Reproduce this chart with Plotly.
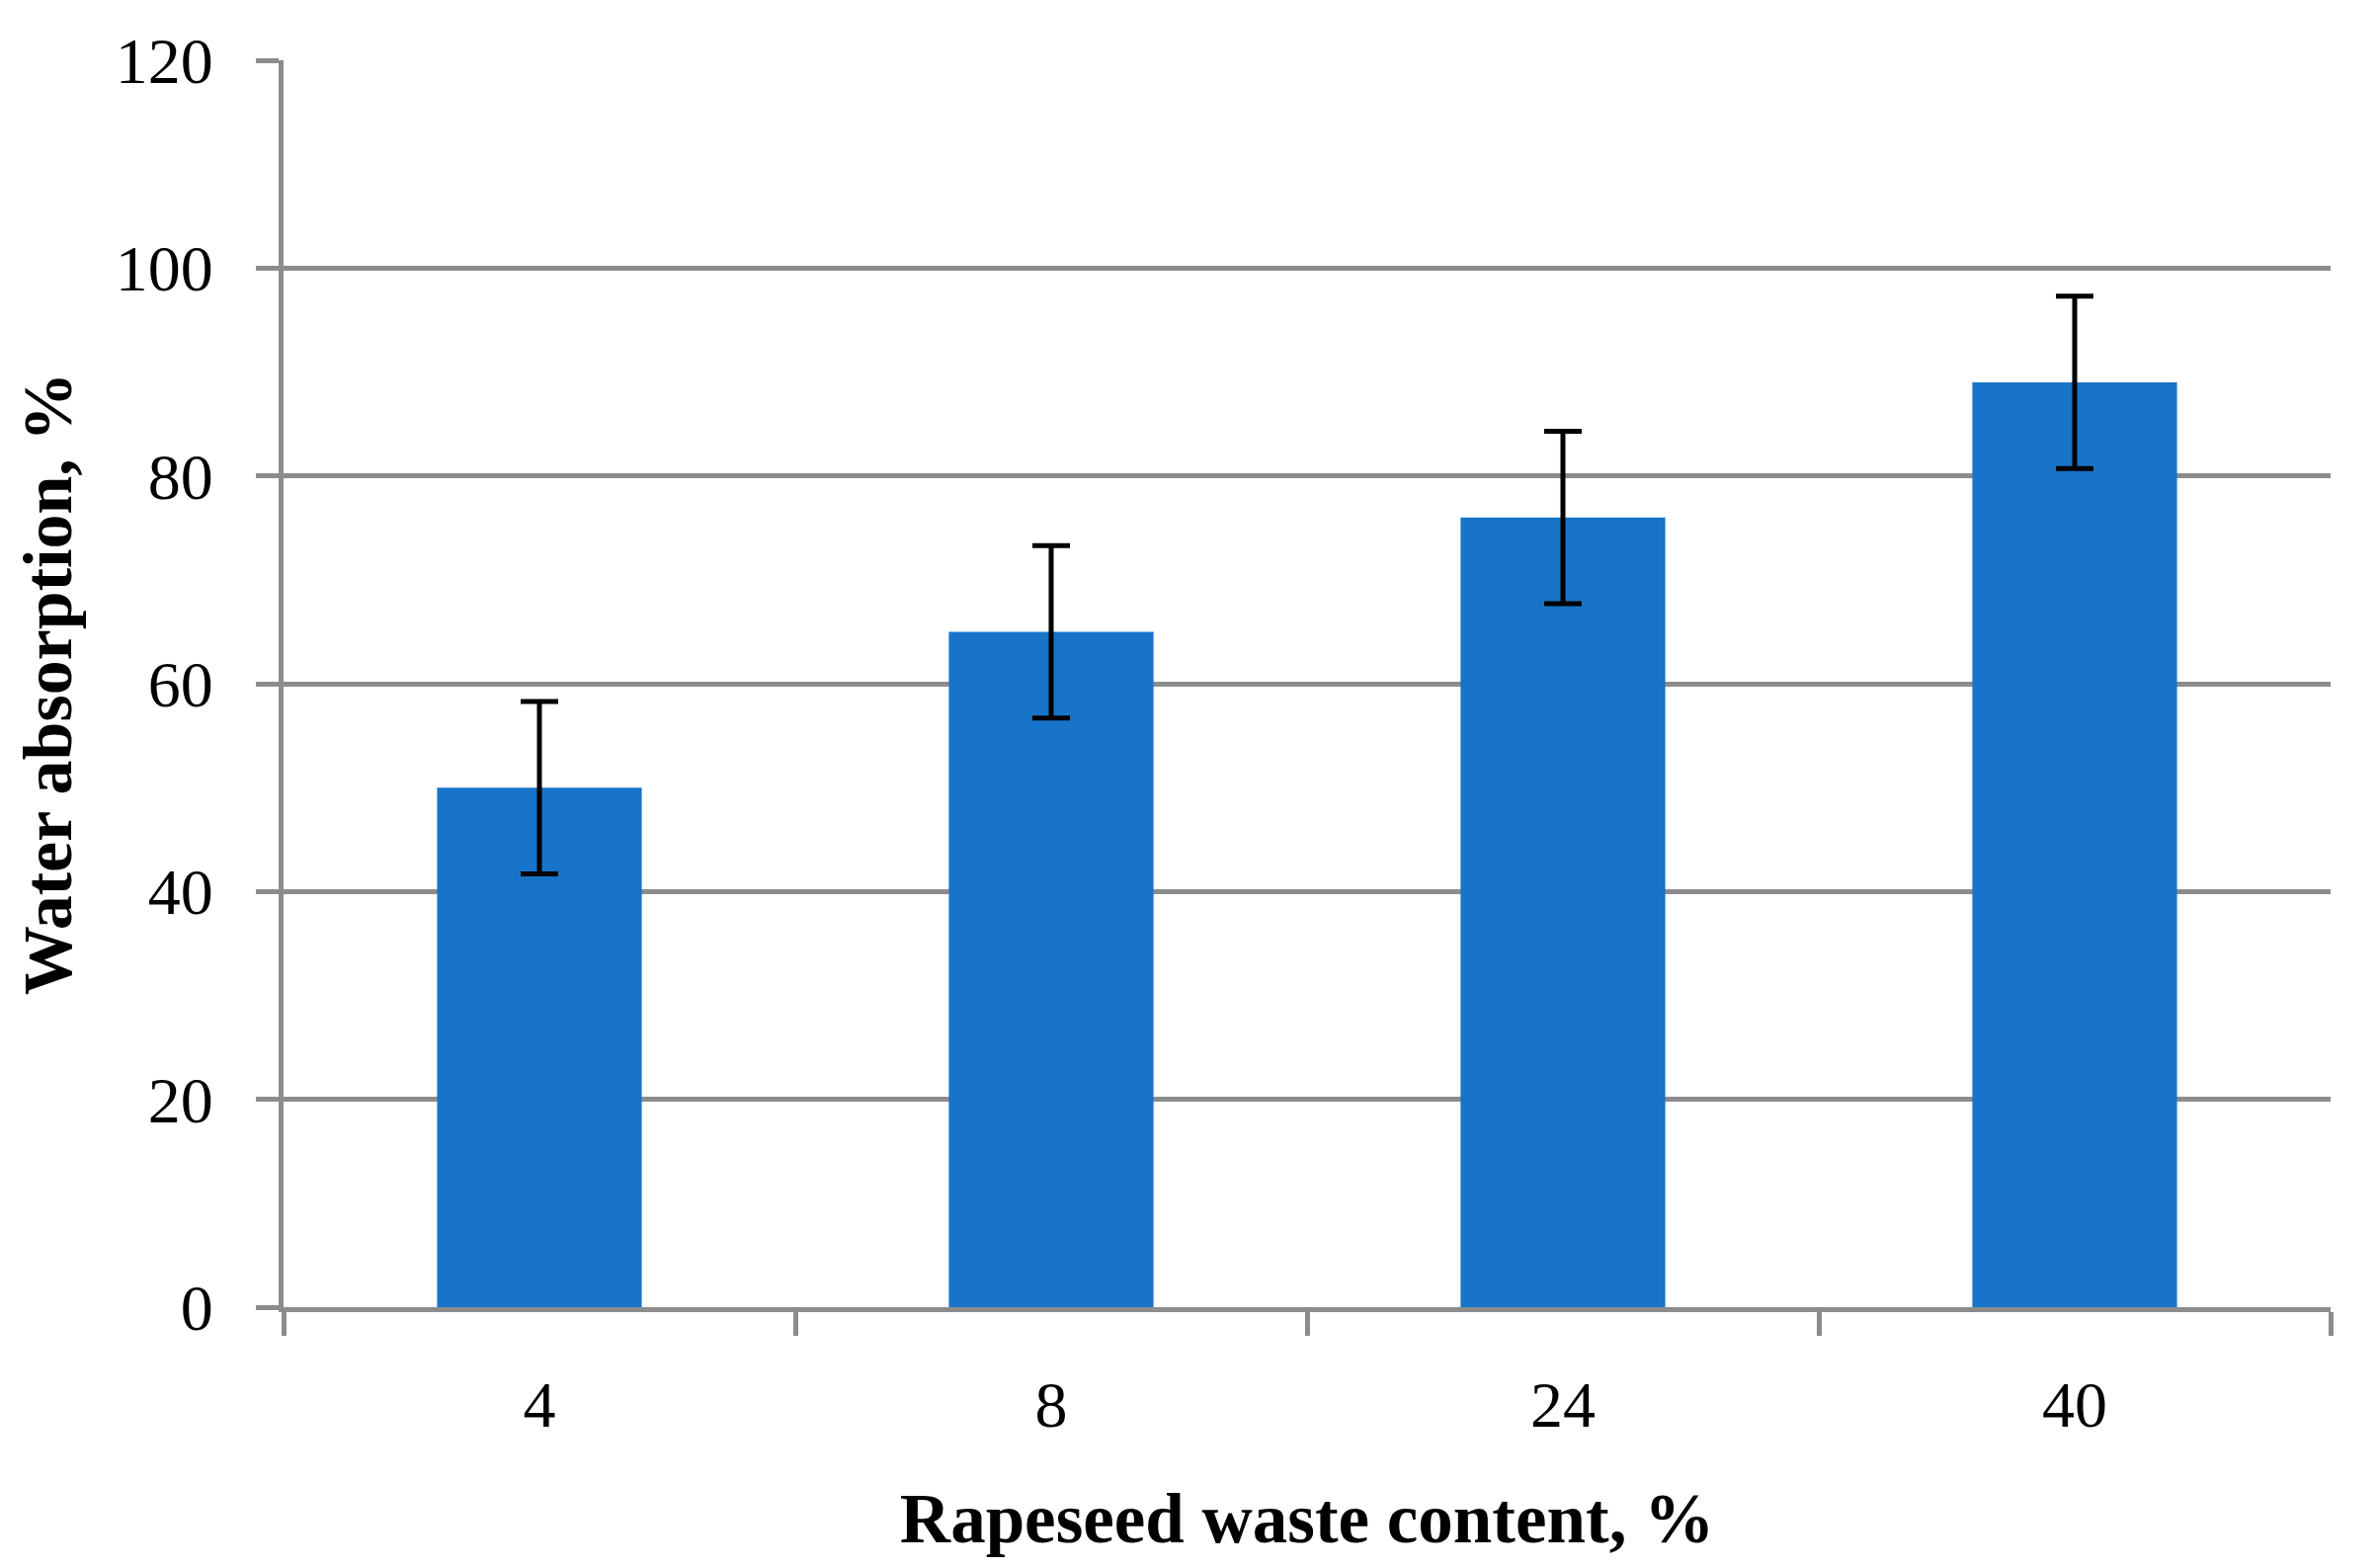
import plotly.graph_objects as go

categories = ["4", "8", "24", "40"]
water_absorption = [50, 65, 76, 89]
error_values = [8.3, 8.3, 8.3, 8.3]
y_ticks = [0, 20, 40, 60, 80, 100, 120]

GRID = "#8c8c8c"
FONT = "Liberation Serif"

fig = go.Figure()
fig.add_trace(go.Bar(
    x=categories,
    y=water_absorption,
    marker=dict(color="#1874C9", line=dict(width=0)),
    error_y=dict(type="data", array=error_values, visible=True,
                 color="black", thickness=5, width=19),
    width=0.4,
    showlegend=False,
))

# page body has an 8px default margin, so the figure is 8px smaller
fig.update_layout(
    width=2397, height=1579,
    margin=dict(l=279, r=46, t=53, b=264, autoexpand=False),
    paper_bgcolor="white", plot_bgcolor="white",
    font=dict(family=FONT, color="black", size=66),
    xaxis=dict(
        type="category",
        showline=True, linecolor=GRID, linewidth=5,
        ticks="outside", tickson="boundaries", ticklen=24, tickwidth=5, tickcolor=GRID,
        tickfont=dict(family=FONT, size=66, color="black"),
        ticklabelstandoff=37,
        title=dict(text="<b>Rapeseed waste content, %</b>",
                   font=dict(family=FONT, size=71, color="black"), standoff=56),
        showgrid=False,
    ),
    yaxis=dict(
        range=[0, 120], tickvals=y_ticks,
        showline=True, linecolor=GRID, linewidth=5,
        ticks="outside", ticklen=23, tickwidth=5, tickcolor=GRID,
        showgrid=True, gridcolor=GRID, gridwidth=5,
        tickfont=dict(family=FONT, size=66, color="black"),
        ticklabelstandoff=30,
        title=dict(text="<b>Water absorption, %</b>",
                   font=dict(family=FONT, size=70, color="black"), standoff=23),
        zeroline=False,
    ),
)

fig.write_html("out.html")
